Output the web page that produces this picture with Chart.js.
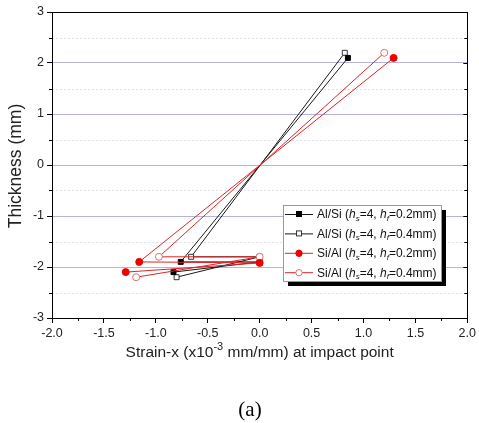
<html>
<head>
  <script src="https://cdn.jsdelivr.net/npm/chart.js@4.4.0/dist/chart.umd.min.js"></script>
  <script>
    // series: x = strain (x10^-3), y = thickness (mm)
    var alSi02X = [0.85, -0.76, 0, -0.83]
    var alSi02Y = [2.1, -1.9, -1.9, -2.1]
    var alSi04X = [0.82, -0.66, 0, -0.80]
    var alSi04Y = [2.2, -1.8, -1.8, -2.2]
    var siAl02X = [1.29, -1.16, 0, -1.29]
    var siAl02Y = [2.1, -1.9, -1.92, -2.1]
    var siAl04X = [1.20, -0.97, 0, -1.19]
    var siAl04Y = [2.2, -1.8, -1.8, -2.2]
    var yMinor = [-2.5, -1.5, -0.5, 0.5, 1.5, 2.5]
    var xMinor = [-1.75, -1.25, -0.75, -0.25, 0.25, 0.75, 1.25, 1.75]
    var seriesNames = ['Al/Si', 'Al/Si', 'Si/Al', 'Si/Al']
    var seriesHf = ['0.2', '0.4', '0.2', '0.4']

    var FONT = '"Liberation Sans", Arial, sans-serif'

    function pts(xs, ys) {
      return xs.map(function (v, i) { return { x: v, y: ys[i] } })
    }

    // draw a run of text pieces, some italic / subscript / superscript
    function richParts(ctx, parts, size, x, y, measureOnly) {
      var cx = x
      parts.forEach(function (p) {
        var s = p.sub || p.sup ? Math.round(size * 0.7) : size
        ctx.font = (p.it ? 'italic ' : '') + s + 'px ' + FONT
        var dy = p.sub ? size * 0.3 : p.sup ? -size * 0.4 : 0
        if (!measureOnly) ctx.fillText(p.t, cx, y + dy)
        cx += ctx.measureText(p.t).width
      })
      return cx - x
    }

    function legendParts(i) {
      return [
        { t: seriesNames[i] + ' (' }, { t: 'h', it: true }, { t: 's', sub: true, it: true },
        { t: '=4, ' }, { t: 'h', it: true }, { t: 'f', sub: true, it: true },
        { t: '=' + seriesHf[i] + 'mm)' }
      ]
    }

    var extras = {
      id: 'extras',
      beforeDatasetsDraw: function (chart) {
        var ctx = chart.ctx, a = chart.chartArea, y = chart.scales.y
        ctx.save()
        ctx.strokeStyle = '#e2e2ea'
        ctx.lineWidth = 1
        ctx.setLineDash([2, 2])
        yMinor.forEach(function (v) {
          var py = Math.round(y.getPixelForValue(v)) + 0.5
          ctx.beginPath(); ctx.moveTo(a.left, py); ctx.lineTo(a.right, py); ctx.stroke()
        })
        ctx.restore()
      },
      afterDraw: function (chart) {
        var ctx = chart.ctx, a = chart.chartArea, x = chart.scales.x, y = chart.scales.y
        ctx.save()
        // frame
        ctx.strokeStyle = '#000'
        ctx.lineWidth = 1
        ctx.strokeRect(Math.round(a.left) + 0.5, Math.round(a.top) + 0.5,
          Math.round(a.right - a.left), Math.round(a.bottom - a.top))
        // minor ticks
        ctx.beginPath()
        yMinor.forEach(function (v) {
          var py = Math.round(y.getPixelForValue(v)) + 0.5
          ctx.moveTo(a.left - 3, py); ctx.lineTo(a.left, py)
          ctx.moveTo(a.right - 3, py); ctx.lineTo(a.right, py)
        })
        y.ticks.forEach(function (t) {
          var py = Math.round(y.getPixelForValue(t.value)) + 0.5
          ctx.moveTo(a.right - 4, py); ctx.lineTo(a.right, py)
        })
        xMinor.forEach(function (v) {
          var px = Math.round(x.getPixelForValue(v)) + 0.5
          ctx.moveTo(px, a.bottom); ctx.lineTo(px, a.bottom + 3)
        })
        ctx.stroke()

        // axis titles
        ctx.fillStyle = '#222'
        ctx.textBaseline = 'middle'
        ctx.textAlign = 'left'
        var xt = [{ t: 'Strain-x (x10' }, { t: '-3', sup: true }, { t: ' mm/mm) at impact point' }]
        var w = richParts(ctx, xt, 15.5, 0, 0, true)
        richParts(ctx, xt, 15.5, (a.left + a.right) / 2 - w / 2, 353)
        ctx.save()
        ctx.translate(16, (a.top + a.bottom) / 2 + 1)
        ctx.rotate(-Math.PI / 2)
        ctx.font = '17.5px ' + FONT
        ctx.textAlign = 'center'
        ctx.fillText('Thickness (mm)', 0, 0)
        ctx.restore()

        // caption
        ctx.textAlign = 'center'
        ctx.fillStyle = '#000'
        ctx.font = '21px "Liberation Serif", "Times New Roman", serif'
        ctx.fillText('(a)', 250, 410)

        // legend box with drop shadow
        var lx = 283, ly = 205, lw = 158, lh = 76
        ctx.fillStyle = '#000'
        ctx.fillRect(lx + 5, ly + 5, lw, lh)
        ctx.fillStyle = '#fff'
        ctx.fillRect(lx, ly, lw, lh)
        ctx.strokeStyle = '#999'
        ctx.strokeRect(lx + 0.5, ly + 0.5, lw, lh)
        chart.data.datasets.forEach(function (ds, i) {
          var ry = ly + 9 + i * 19.4
          ctx.strokeStyle = ds.borderColor
          ctx.lineWidth = 1
          ctx.beginPath(); ctx.moveTo(lx + 2, ry + 0.5); ctx.lineTo(lx + 30, ry + 0.5); ctx.stroke()
          ctx.fillStyle = ds.pointBackgroundColor
          ctx.strokeStyle = ds.pointBorderColor
          if (ds.pointStyle === 'rect') {
            ctx.fillRect(lx + 13, ry - 3, 6, 6)
            ctx.strokeRect(lx + 13.5, ry - 2.5, 5, 5)
          } else {
            ctx.beginPath(); ctx.arc(lx + 16, ry + 0.5, 3.2, 0, Math.PI * 2); ctx.fill(); ctx.stroke()
          }
          ctx.fillStyle = '#111'
          ctx.textAlign = 'left'
          richParts(ctx, legendParts(i), 12, lx + 34, ry + 1)
        })
        ctx.restore()
      }
    }

    function init() {
      new Chart(document.getElementById('c'), {
        type: 'scatter',
        data: {
          datasets: [
            { data: pts(alSi02X, alSi02Y), showLine: true, borderColor: '#1a1a1a', borderWidth: 1,
              pointStyle: 'rect', pointRadius: 3.5, pointBackgroundColor: '#000', pointBorderColor: '#000', order: 2 },
            { data: pts(alSi04X, alSi04Y), showLine: true, borderColor: '#1a1a1a', borderWidth: 1,
              pointStyle: 'rect', pointRadius: 3.5, pointBackgroundColor: '#fff', pointBorderColor: '#333', order: 2 },
            { data: pts(siAl02X, siAl02Y), showLine: true, borderColor: '#d8262a', borderWidth: 1,
              pointStyle: 'circle', pointRadius: 3.5, pointBackgroundColor: '#ee0000', pointBorderColor: '#ee0000', order: 1 },
            { data: pts(siAl04X, siAl04Y), showLine: true, borderColor: '#d8262a', borderWidth: 1,
              pointStyle: 'circle', pointRadius: 3.5, pointBackgroundColor: '#fff', pointBorderColor: '#e07070', order: 1 }
          ]
        },
        options: {
          animation: false,
          responsive: true,
          maintainAspectRatio: false,
          layout: { padding: { left: 0, top: 12, right: 11, bottom: 0 } },
          plugins: { legend: { display: false }, tooltip: { enabled: false } },
          scales: {
            x: {
              min: -2, max: 2,
              afterFit: function (s) { s.height = 105 },
              border: { color: '#000' },
              grid: { drawOnChartArea: false, color: '#000', tickLength: 5 },
              ticks: { stepSize: 0.5, color: '#222', padding: 3, font: { family: FONT, size: 12.5 },
                callback: function (v) { return v.toFixed(1) } }
            },
            y: {
              min: -3, max: 3,
              afterFit: function (s) { s.width = 52 },
              border: { color: '#000' },
              grid: { color: '#b4b4dc', tickColor: '#000', tickLength: 5 },
              ticks: { stepSize: 1, color: '#222', padding: 3, font: { family: FONT, size: 12.5 } }
            }
          }
        },
        plugins: [extras]
      })
    }
  </script>
</head>
<body onload="init()" style="margin:0;background:#fff">
  <div style="width:479px;height:423px"><canvas id="c"></canvas></div>
</body>
</html>
